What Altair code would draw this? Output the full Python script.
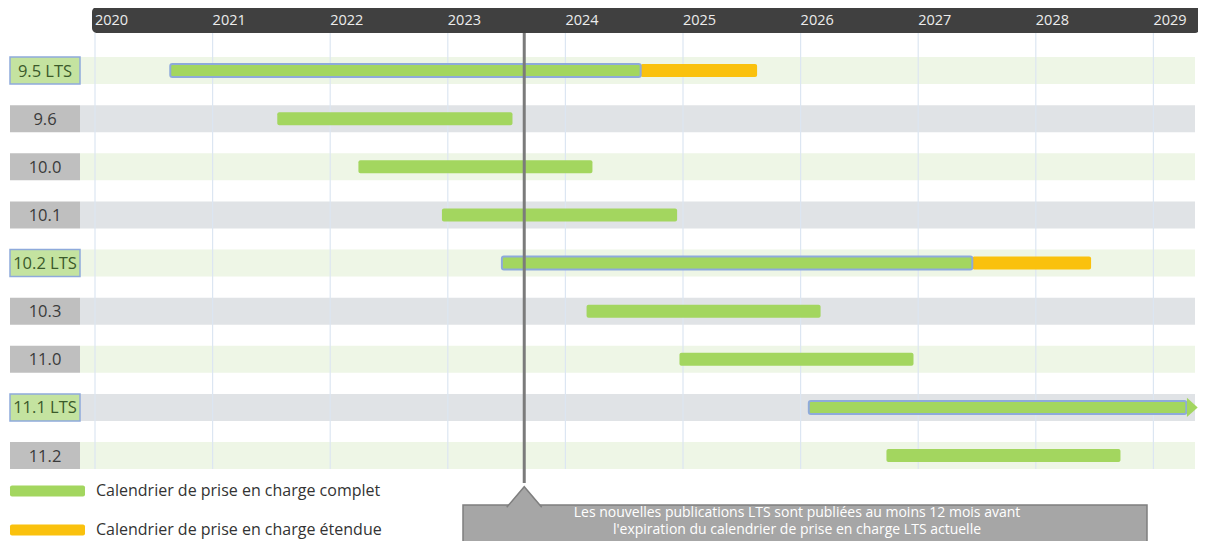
import altair as alt
import pandas as pd

# ---------------- data ----------------
versions = ["9.5 LTS", "9.6", "10.0", "10.1", "10.2 LTS", "10.3", "11.0", "11.1 LTS", "11.2"]
is_lts = [True, False, False, False, True, False, False, True, False]
full_start = [2020.64, 2021.55, 2022.24, 2022.95, 2023.46, 2024.18, 2024.97, 2026.07, 2026.73]
full_end = [2024.64, 2023.55, 2024.23, 2024.95, 2027.46, 2026.17, 2026.96, 2029.28, 2028.72]
ext_end = [2025.63, None, None, None, 2028.47, None, None, None, None]
open_ended = [False, False, False, False, False, False, False, True, False]
years = [2020, 2021, 2022, 2023, 2024, 2025, 2026, 2027, 2028, 2029]
today = 2023.65
legend_labels = ["Calendrier de prise en charge complet", "Calendrier de prise en charge étendue"]
callout_lines = [
    "Les nouvelles publications LTS sont publiées au moins 12 mois avant",
    "l'expiration du calendrier de prise en charge LTS actuelle",
]

W, H = 1190, 533
PX_PER_YEAR = 117.6
x0 = 2020 - 87 / PX_PER_YEAR
x1 = x0 + W / PX_PER_YEAR

FONT = "Open Sans"
GREEN = "#a3d65f"
ORANGE = "#fac10d"
BLUE = "#8eaadb"

rows = pd.DataFrame({
    "version": versions,
    "row": list(range(len(versions))),
    "lts": is_lts,
    "start": full_start,
    "end": full_end,
    "ext": ext_end,
    "open": open_ended,
})
ext_df = rows.dropna(subset=["ext"])
yrs = pd.DataFrame({"year": years})
one = pd.DataFrame({"t": [today]})

xs = alt.Scale(domain=[x0, x1], range=[0, W], nice=False, zero=False, padding=0)
ys = alt.Scale(domain=[0, len(versions) - 1], range=[62.5, 447.5], nice=False, zero=False, padding=0)
X = lambda f: alt.X(f, type="quantitative", scale=xs, axis=None)
Y = alt.Y("row:Q", scale=ys, axis=None)

# header bar
header = alt.Chart(one).mark_rect(color="#404040", cornerRadius=5).encode(
    x=alt.value(84), x2=alt.value(1192), y=alt.value(-1), y2=alt.value(25)
)
year_text = alt.Chart(yrs).mark_text(
    align="left", baseline="middle", dx=0, font=FONT, fontSize=14.5, color="#ececec"
).encode(x=X("year"), y=alt.value(13), text=alt.Text("year:N"))

# row bands
bands = alt.Chart(rows).mark_bar(size=27, orient="horizontal").encode(
    x=alt.value(72), x2=alt.value(1187), y=Y,
    color=alt.condition("datum.row % 2 == 0", alt.value("#eef6e6"), alt.value("#e0e3e6")),
)
grid = alt.Chart(yrs).mark_rule(color="#dce6f2", strokeWidth=1.2).encode(
    x=X("year"), y=alt.value(25), y2=alt.value(461)
)

# labels
label_box = alt.Chart(rows).mark_bar(size=27, orient="horizontal").encode(
    x=alt.value(2), x2=alt.value(72), y=Y,
    color=alt.condition("datum.lts", alt.value("#c4e3a0"), alt.value("#bfbfbf")),
    stroke=alt.condition("datum.lts", alt.value(BLUE), alt.value("#bfbfbf")),
    strokeWidth=alt.condition("datum.lts", alt.value(1.5), alt.value(0)),
)
label_text = alt.Chart(rows).mark_text(
    align="center", baseline="middle", font=FONT, fontSize=16.5, dy=1
).encode(
    x=alt.value(37), y=Y, text="version:N",
    color=alt.condition("datum.lts", alt.value("#3b5a2a"), alt.value("#3a3a3a")),
)

# bars
ext_bars = alt.Chart(ext_df).mark_bar(size=13, orient="horizontal", color=ORANGE, cornerRadius=2).encode(
    x=X("end"), x2="ext:Q", y=Y
)
full_bars = alt.Chart(rows).mark_bar(size=13, orient="horizontal", color=GREEN, cornerRadius=2).encode(
    x=X("start"), x2="end:Q", y=Y,
    stroke=alt.condition("datum.lts", alt.value(BLUE), alt.value(GREEN)),
    strokeWidth=alt.condition("datum.lts", alt.value(2), alt.value(0)),
)
arrow = alt.Chart(rows).transform_filter("datum.open").mark_point(
    shape="M-0.55,-1L0.55,0L-0.55,1Z", size=380, filled=True, color=GREEN, opacity=1, xOffset=6
).encode(x=X("end"), y=Y)

# today line + callout
today_rule = alt.Chart(one).mark_rule(color="#7b7b7b", strokeWidth=3).encode(
    x=X("t"), y=alt.value(25), y2=alt.value(475)
)
callout_box = alt.Chart(one).mark_rect(color="#a6a6a6", stroke="#7f7f7f", strokeWidth=1.5).encode(
    x=alt.value(455), x2=alt.value(1139), y=alt.value(497), y2=alt.value(560)
)
callout_tri = alt.Chart(one).mark_point(
    shape="M-1,0.62L0,-0.56L1,0.62", size=1225, filled=True, fill="#a6a6a6",
    stroke="#7f7f7f", strokeWidth=1.5, opacity=1, strokeOpacity=1, fillOpacity=1
).encode(x=X("t"), y=alt.value(488.5))
callout_text = alt.Chart(one).mark_text(
    align="center", baseline="middle", font=FONT, fontSize=14, color="#ffffff",
    lineHeight=17, text=callout_lines,
).encode(x=alt.value(789), y=alt.value(505))

# legend
leg = pd.DataFrame({"label": legend_labels, "k": [0, 1], "c": [GREEN, ORANGE]})
leg_y = alt.Scale(domain=[0, 1], range=[483, 522], nice=False, zero=False, padding=0)
leg_bar = alt.Chart(leg).mark_bar(size=11, orient="horizontal", cornerRadius=2).encode(
    x=alt.value(2), x2=alt.value(77), y=alt.Y("k:Q", scale=leg_y, axis=None),
    color=alt.Color("c:N", scale=None),
)
leg_text = alt.Chart(leg).mark_text(
    align="left", baseline="middle", font=FONT, fontSize=16, color="#333333"
).encode(x=alt.value(88), y=alt.Y("k:Q", scale=leg_y, axis=None), text="label:N")

chart = alt.layer(
    header, year_text, bands, grid, label_box, label_text,
    ext_bars, full_bars, arrow, today_rule, callout_box, callout_tri, callout_text,
    leg_bar, leg_text,
).resolve_scale(y="independent").properties(
    width=W, height=H, padding=0, autosize=alt.AutoSizeParams(type="none")
).configure_view(stroke=None)

chart.save("out.html", embed_options={"renderer": "svg", "actions": False})
